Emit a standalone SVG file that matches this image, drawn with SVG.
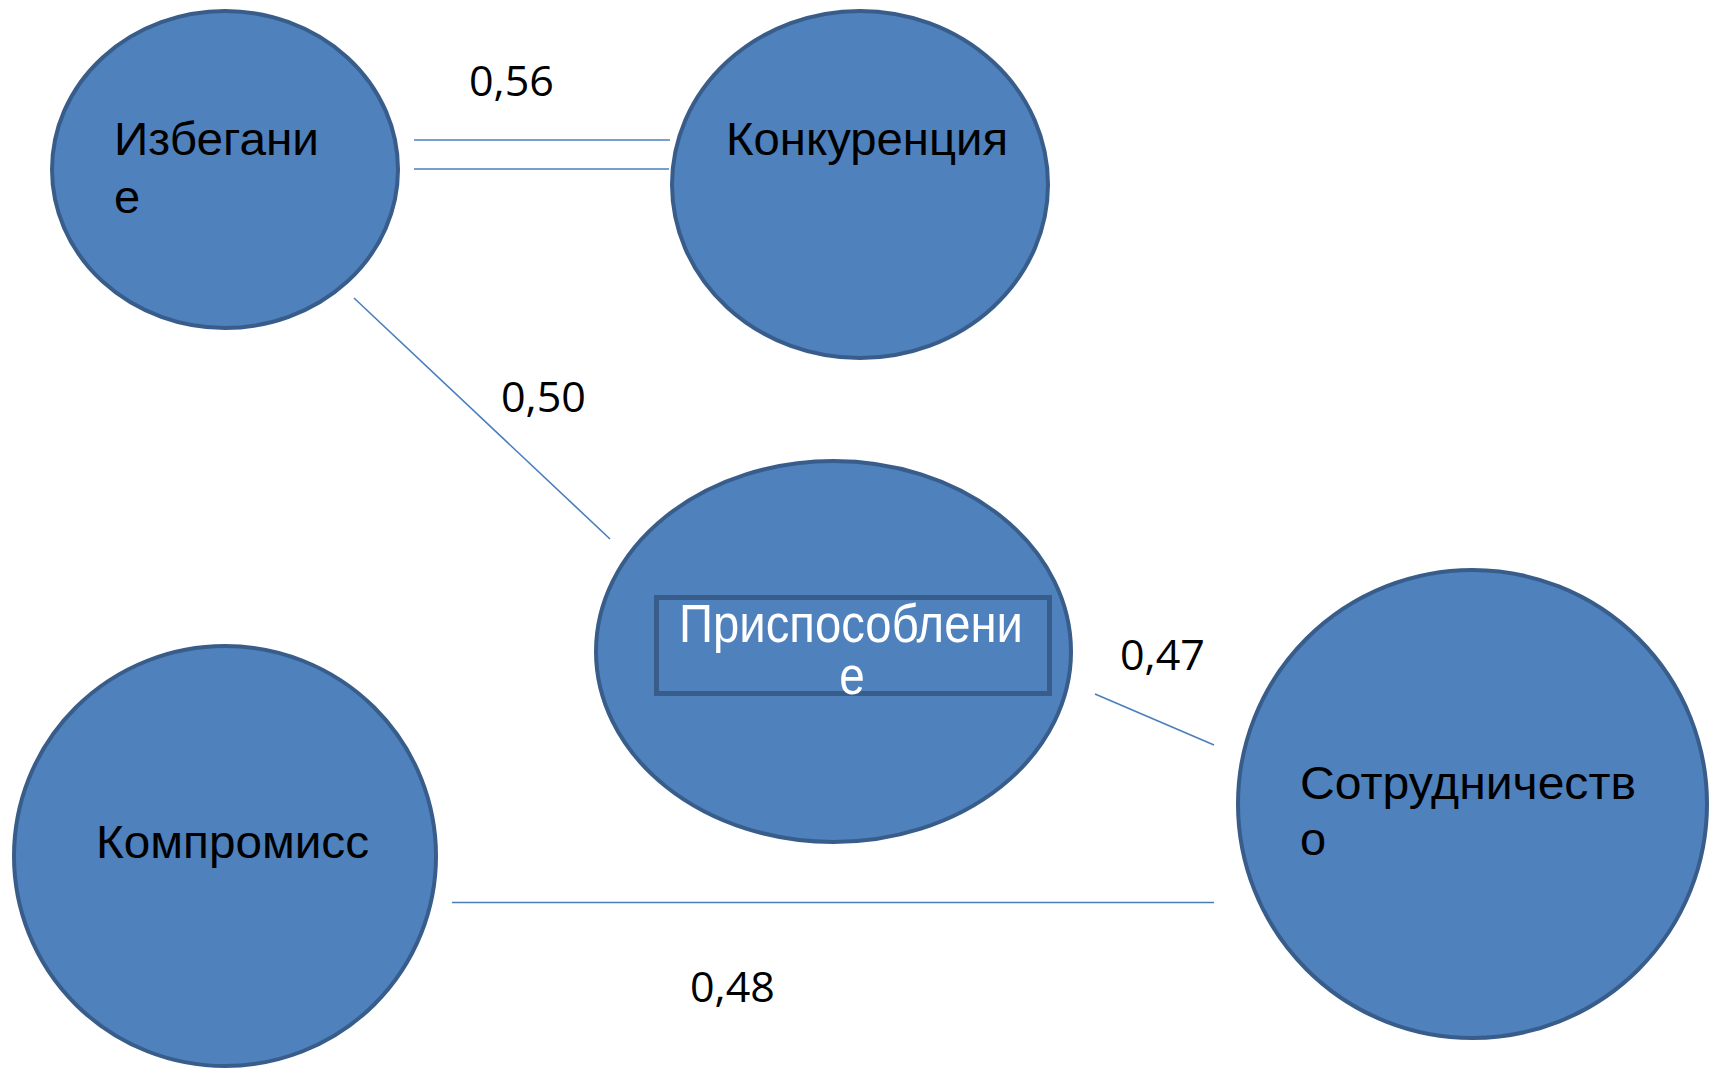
<svg xmlns="http://www.w3.org/2000/svg" width="1714" height="1069" viewBox="0 0 1714 1069">
<style>
.node{fill:#4F81BD;stroke:#385D8A;stroke-width:4}
.lbl{font-family:"Liberation Sans",Arial,sans-serif;font-size:47px;fill:#000}
.wlbl{font-family:"Liberation Sans",Arial,sans-serif;font-size:54px;fill:#fff}
.num{font-family:"Open Sans","Liberation Sans",sans-serif;font-size:42px;fill:#000}
.edge{stroke:#4A7EBB;stroke-width:1.6;fill:none}
</style>
<rect width="1714" height="1069" fill="#fff"/>
<g id="connectors">
<line class="edge" x1="414" y1="140" x2="670" y2="140"/>
<line class="edge" x1="414" y1="169" x2="669" y2="169"/>
<line class="edge" x1="354" y1="298" x2="610" y2="539"/>
<line class="edge" x1="1095" y1="694" x2="1214" y2="745"/>
<line class="edge" x1="452" y1="902.5" x2="1214" y2="902.5" stroke-width="2.4"/>
<text class="num" x="469" y="96" textLength="85" lengthAdjust="spacingAndGlyphs">0,56</text>
<text class="num" x="501" y="412" textLength="85" lengthAdjust="spacingAndGlyphs">0,50</text>
<text class="num" x="1120" y="670" textLength="85" lengthAdjust="spacingAndGlyphs">0,47</text>
<text class="num" x="690" y="1002" textLength="85" lengthAdjust="spacingAndGlyphs">0,48</text>
</g>
<g id="node-izbeganie">
<ellipse class="node" cx="225" cy="169.5" rx="173" ry="158.5"/>
<text class="lbl" x="114" y="155" textLength="205" lengthAdjust="spacingAndGlyphs">Избегани</text>
<text class="lbl" x="114" y="213">е</text>
</g>
<g id="node-konkurentsiya">
<ellipse class="node" cx="860" cy="184.5" rx="188" ry="173.5"/>
<text class="lbl" x="726" y="155" textLength="282" lengthAdjust="spacingAndGlyphs">Конкуренция</text>
</g>
<g id="node-prisposoblenie">
<ellipse class="node" cx="833.5" cy="651.5" rx="237.5" ry="190.5"/>
<rect x="656.5" y="597.5" width="393" height="96" fill="none" stroke="#385D8A" stroke-width="5"/>
<text class="wlbl" x="679" y="642" textLength="344" lengthAdjust="spacingAndGlyphs">Приспособлени</text>
<text class="wlbl" x="852" y="694" text-anchor="middle" transform="translate(852 0) scale(0.85 1) translate(-852 0)">е</text>
</g>
<g id="node-kompromiss">
<ellipse class="node" cx="225" cy="856" rx="211" ry="210"/>
<text class="lbl" x="96" y="858" textLength="273" lengthAdjust="spacingAndGlyphs">Компромисс</text>
</g>
<g id="node-sotrudnichestvo">
<ellipse class="node" cx="1472.5" cy="804" rx="234.5" ry="234"/>
<text class="lbl" x="1300" y="799" textLength="336" lengthAdjust="spacingAndGlyphs">Сотрудничеств</text>
<text class="lbl" x="1300" y="855">о</text>
</g>
</svg>
